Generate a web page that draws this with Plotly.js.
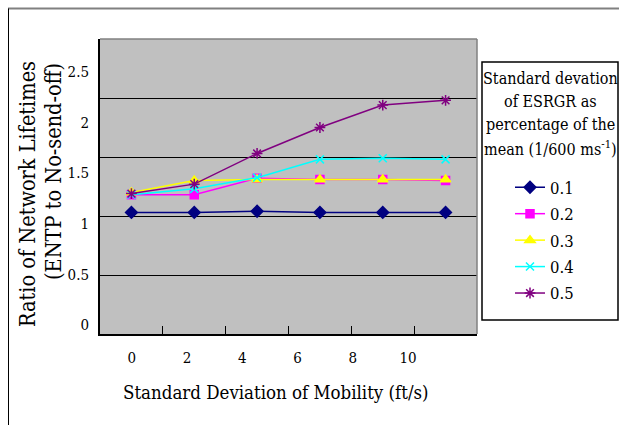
<!DOCTYPE html>
<html>
<head>
<meta charset="utf-8">
<script src="https://cdn.plot.ly/plotly-3.0.1.min.js"></script>
<style>html,body{margin:0;padding:0;background:#fff;}#chart{width:619px;height:425px;}</style>
</head>
<body>
<div id="chart"></div>
<script>
// ---- data ----
var mobility = [0, 2, 4, 6, 8, 10];
var xTickLabels = ['0', '2', '4', '6', '8', '10'];
var yTickLabels = ['0', '0.5', '1', '1.5', '2', '2.5'];
var seriesNames = ['0.1', '0.2', '0.3', '0.4', '0.5'];
var s01 = [1.03, 1.03, 1.04, 1.03, 1.03, 1.03];
var s02 = [1.18, 1.18, 1.32, 1.31, 1.31, 1.30];
var s03 = [1.20, 1.30, 1.31, 1.31, 1.31, 1.31];
var s04 = [1.18, 1.23, 1.325, 1.48, 1.49, 1.48];
var s05 = [1.19, 1.27, 1.53, 1.75, 1.94, 1.98];
var legendTitleLines = ['Standard devation', 'of ESRGR as', 'percentage of the', 'mean (1/600 ms<sup>-1</sup>)'];
var yTitleLines = ['Ratio of Network Lifetimes', '(ENTP to No-send-off)'];
var xTitle = 'Standard Deviation of Mobility (ft/s)';

// ---- layout helpers (pixel geometry of the plot area) ----
var L = 100, R = 477, T = 39, B = 334, W = 619, H = 425;
function px(x) { return (x - L) / (R - L); }
function py(y) { return (B - y) / (B - T); }

var FONT = '"DejaVu Serif Condensed", "DejaVu Serif", serif';

var styles = [
  {color: '#000080', symbol: 'diamond', size: 9},
  {color: '#ff00ff', symbol: 'square', size: 8},
  {color: '#ffff00', symbol: 'triangle-up', size: 9},
  {color: '#00ffff', symbol: 'x-thin-open', size: 8},
  {color: '#800080', symbol: 'asterisk-open', size: 9}
];
var series = [s01, s02, s03, s04, s05];

var traces = series.map(function (s, i) {
  var st = styles[i];
  return {
    type: 'scatter', mode: 'lines+markers', x: mobility, y: s, name: seriesNames[i],
    legendgroup: 'g' + i,
    line: {color: st.color, width: 1.5},
    marker: {color: st.color, symbol: st.symbol, size: st.size, line: {color: st.color, width: 1.5}},
    hoverinfo: 'x+y'
  };
});
// empty trace so the label-only axes exist
traces.push({type: 'scatter', x: [], y: [], xaxis: 'x2', yaxis: 'y2', showlegend: false, hoverinfo: 'skip'});

var annotations = [];
var legendTitleY = [78, 101.7, 125, 148];
legendTitleLines.forEach(function (t, i) {
  annotations.push({xref: 'paper', yref: 'paper', x: px(550), y: py(legendTitleY[i]), text: t,
    showarrow: false, xanchor: 'center', yanchor: 'middle', font: {family: FONT, size: 16, color: '#000'}});
});
annotations.push({xref: 'paper', yref: 'paper', x: px(28), y: py(194), text: yTitleLines[0], textangle: -90,
  showarrow: false, xanchor: 'center', yanchor: 'middle', font: {family: FONT, size: 21.5, color: '#000'}});
annotations.push({xref: 'paper', yref: 'paper', x: px(53), y: py(172), text: yTitleLines[1], textangle: -90,
  showarrow: false, xanchor: 'center', yanchor: 'middle', font: {family: FONT, size: 21.5, color: '#000'}});
annotations.push({xref: 'paper', yref: 'paper', x: px(276), y: py(392), text: xTitle,
  showarrow: false, xanchor: 'center', yanchor: 'middle', font: {family: FONT, size: 18.5, color: '#000'}});

var shapes = [
  // plot border top / right (gray)
  {type: 'line', xref: 'paper', yref: 'paper', x0: 0, x1: 1, y0: 1, y1: 1, line: {color: '#808080', width: 1.5}, layer: 'above'},
  {type: 'line', xref: 'paper', yref: 'paper', x0: 1, x1: 1, y0: 0, y1: 1, line: {color: '#808080', width: 1.5}, layer: 'above'},
  // legend box
  {type: 'rect', xref: 'paper', yref: 'paper', x0: px(482), x1: px(618), y0: py(320), y1: py(62), line: {color: '#000', width: 1.5}},
  // outer frame
  {type: 'line', xref: 'paper', yref: 'paper', x0: px(8), x1: px(625), y0: py(8.5), y1: py(8.5), line: {color: '#808080', width: 2}},
  {type: 'line', xref: 'paper', yref: 'paper', x0: px(8.5), x1: px(8.5), y0: py(8.5), y1: py(430), line: {color: '#000', width: 1}}
];

var layout = {
  width: W, height: H,
  margin: {l: L, r: W - R, t: T, b: H - B, pad: 0},
  paper_bgcolor: '#ffffff', plot_bgcolor: '#c0c0c0',
  showlegend: true,
  legend: {x: px(510), y: py(170), xanchor: 'left', yanchor: 'top', bgcolor: 'rgba(0,0,0,0)', borderwidth: 0,
    traceorder: 'grouped', tracegroupgap: 2, font: {family: FONT, size: 16.5, color: '#000'}},
  xaxis: {range: [-1, 11], tickmode: 'array', tickvals: [-1, 1, 3, 5, 7, 9, 11], ticks: 'inside', ticklen: 8,
    tickcolor: '#000', tickwidth: 1, showticklabels: false, showgrid: false, zeroline: false,
    showline: true, linecolor: '#000', linewidth: 1.5, fixedrange: true},
  yaxis: {range: [0, 2.5], tickmode: 'array', tickvals: [0.5, 1, 1.5, 2], showticklabels: false, ticks: '',
    showgrid: true, gridcolor: '#000', gridwidth: 1.3, zeroline: false,
    showline: true, linecolor: '#000', linewidth: 1.5, fixedrange: true},
  xaxis2: {overlaying: 'x', anchor: 'y', side: 'bottom', range: [-31.7 / 27.63, 10 + 69 / 27.63],
    tickmode: 'array', tickvals: mobility, ticktext: xTickLabels, ticks: '', showline: false, showgrid: false,
    zeroline: false, ticklabelstandoff: 13, tickfont: {family: FONT, size: 15, color: '#000'}, fixedrange: true},
  yaxis2: {overlaying: 'y', anchor: 'x', side: 'left', range: [-9 / 101.2, 2.5 + 33 / 101.2],
    tickmode: 'array', tickvals: [0, 0.5, 1, 1.5, 2, 2.5], ticktext: yTickLabels, ticks: '', showline: false,
    showgrid: false, zeroline: false, ticklabelstandoff: 10, tickfont: {family: FONT, size: 15, color: '#000'}, fixedrange: true},
  annotations: annotations,
  shapes: shapes
};

Plotly.newPlot('chart', traces, layout, {displayModeBar: false, staticPlot: false});
</script>
</body>
</html>
